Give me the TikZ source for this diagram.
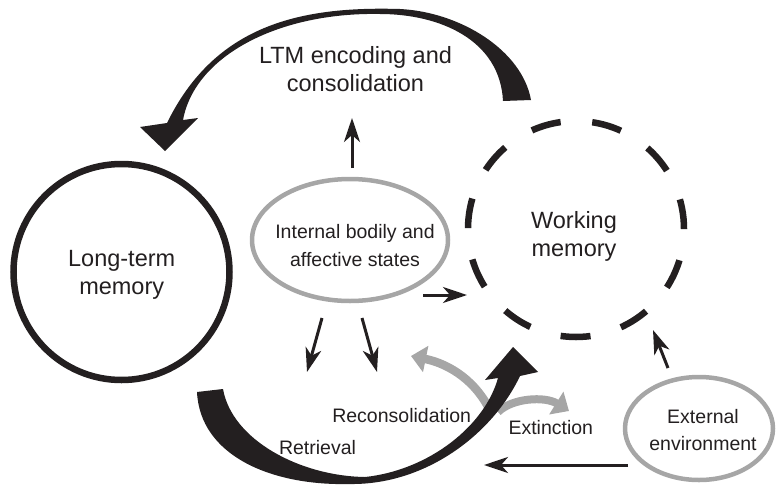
\documentclass[tikz,border=0pt]{standalone}
\usepackage{fontspec}
\setmainfont{Liberation Sans}
\usetikzlibrary{arrows.meta,shapes.geometric,calc}
\definecolor{ink}{HTML}{231F20}
\definecolor{lg}{HTML}{A6A6A6}
\begin{document}
\begin{tikzpicture}[x=1pt,y=-1pt,
  bigtxt/.style={font=\fontsize{23.5}{28}\selectfont, text=ink, align=center, inner sep=0pt},
  smalltxt/.style={font=\fontsize{19.5}{27}\selectfont, text=ink, align=center, inner sep=0pt},
  thinarr/.style={draw=ink, line width=3pt, -{Stealth[length=24pt,width=16pt,inset=7pt]}},
  grayarr/.style={draw=lg, line width=8.5pt, -{Triangle[length=15pt,width=26pt]}},
  bigfill/.style={fill=ink, draw=none},
  grayell/.style={ellipse, draw=lg, line width=4.5pt, inner sep=0pt},
  memcircle/.style={circle, draw=ink, line width=6.5pt, minimum size=216pt, inner sep=0pt},
]
\useasboundingbox (0,0) rectangle (776,485);

% shapes
\node[memcircle] (ltm) at (121.5,272) {};
\node[memcircle, dash pattern=on 30pt off 31.69pt] (wm) at (576,229) {};
\node[grayell, minimum width=196pt, minimum height=122pt] (int) at (350,240) {};
\node[grayell, minimum width=148pt, minimum height=103pt] (ext) at (699,428.5) {};

% labels
\node[bigtxt] (ltmenc) at (355.5,68.75) {LTM encoding and\\consolidation};
\node[bigtxt] (ltmlbl) at (121.7,274.55) {Long-term\\memory};
\node[bigtxt] (wmlbl) at (574,236.05) {Working\\memory};
\node[smalltxt, font=\fontsize{19.5}{28.4}\selectfont] (intlbl) at (355,245.6) {Internal bodily and\\affective states};
\node[smalltxt] (extlbl) at (703,429.6) {External\\environment};
\node[smalltxt, anchor=base] (recon) at (401.7,422) {Reconsolidation};
\node[smalltxt, anchor=base] (retr) at (317.5,454) {Retrieval};
\node[smalltxt, anchor=base] (extinct) at (550.8,434.5) {Extinction};

% gray arrows (under the black one)
\coordinate (rc0) at (492,415);
\coordinate (rc1) at (411,356);
\coordinate (ex0) at (498,412);
\coordinate (ex1) at (569,411);
\draw[grayarr] (rc0) .. controls (478,382) and (450,364) .. (rc1);
\draw[grayarr, line width=8pt] (ex0) .. controls (512,398) and (545,396) .. (ex1);

% LTM encoding arrow (top)
\fill[bigfill] (531,100) .. controls (522,50) and (460,12) .. (400,9)
  .. controls (300,6) and (215,25) .. (167,123)
  -- (140,127) -- (165,151) -- (198,118) -- (183,120)
  .. controls (195,55) and (280,12) .. (380,14)
  .. controls (440,14) and (500,40) .. (503,101) -- cycle;

% Retrieval arrow (bottom)
\fill[bigfill] (197,392) .. controls (200,455) and (270,486) .. (350,484)
  .. controls (425,485) and (492,435) .. (520,376)
  -- (538,372) -- (513,347) -- (485,380) -- (498,378)
  .. controls (485,425) and (430,470) .. (365,477)
  .. controls (300,476) and (232,440) .. (223,389) -- cycle;

% thin arrows
\coordinate (up0) at (352,168);
\coordinate (up1) at (352,118);
\coordinate (rt0) at (423,295);
\coordinate (rt1) at (467,295);
\coordinate (dl0) at (322,318);
\coordinate (dl1) at (307,372);
\coordinate (dr0) at (362,318);
\coordinate (dr1) at (377,372);
\coordinate (ew0) at (668,368);
\coordinate (ew1) at (653,330);
\coordinate (eh0) at (628,465);
\coordinate (eh1) at (484,465);
\draw[thinarr] (up0) -- (up1);
\draw[thinarr] (rt0) -- (rt1);
\draw[thinarr] (dl0) -- (dl1);
\draw[thinarr] (dr0) -- (dr1);
\draw[thinarr] (ew0) -- (ew1);
\draw[thinarr] (eh0) -- (eh1);
\end{tikzpicture}
\end{document}
